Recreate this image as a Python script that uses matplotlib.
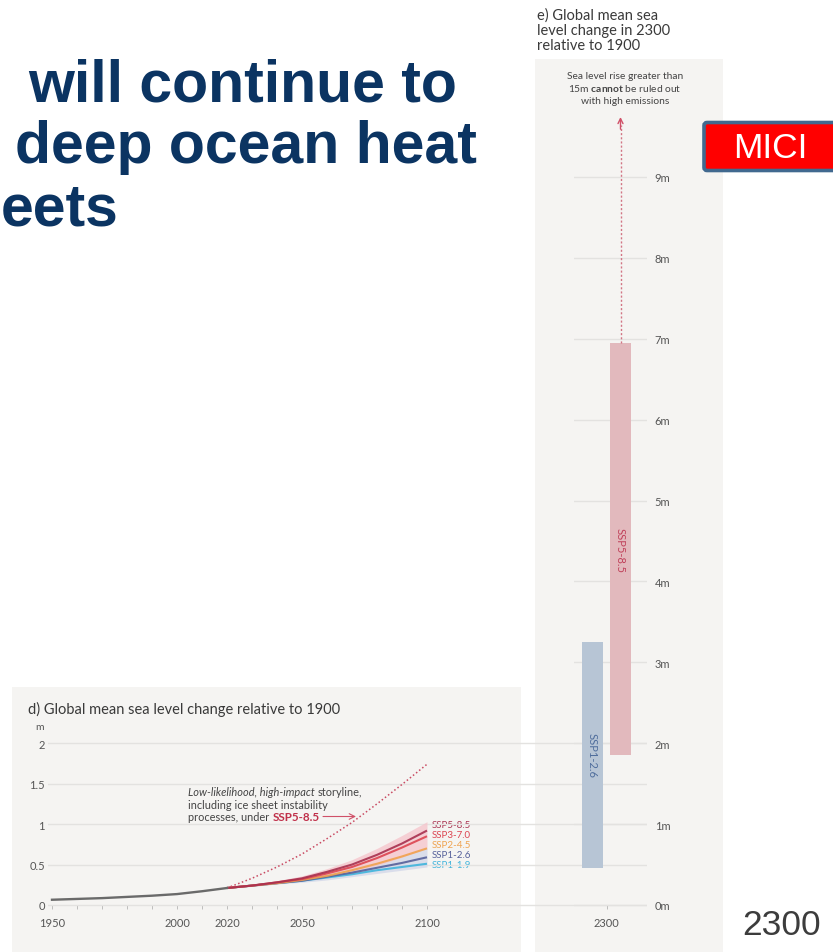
import matplotlib
matplotlib.use('Agg')
import matplotlib.pyplot as plt
from matplotlib.patches import Rectangle, FancyBboxPatch
from matplotlib.ticker import FixedLocator

plt.rcParams['font.family'] = ['Lato', 'DejaVu Sans']
plt.rcParams['mathtext.fontset'] = 'custom'
plt.rcParams['mathtext.rm'] = 'Lato'
plt.rcParams['mathtext.bf'] = 'Lato:bold'
plt.rcParams['mathtext.it'] = 'Lato:italic'

# ---- panel d: GMSL change relative to 1900 (m) ----
obs_years = [1950, 1960, 1970, 1980, 1990, 2000, 2010, 2020]
obs_gmsl = [0.065, 0.075, 0.085, 0.10, 0.115, 0.135, 0.17, 0.21]

proj_years = [2020, 2030, 2040, 2050, 2060, 2070, 2080, 2090, 2100]
scenarios = ['SSP5-8.5', 'SSP3-7.0', 'SSP2-4.5', 'SSP1-2.6', 'SSP1-1.9']
ssp585 = [0.21, 0.24, 0.28, 0.33, 0.41, 0.50, 0.62, 0.76, 0.92]
ssp370 = [0.21, 0.24, 0.28, 0.32, 0.39, 0.47, 0.58, 0.71, 0.85]
ssp245 = [0.21, 0.24, 0.27, 0.31, 0.36, 0.43, 0.51, 0.60, 0.70]
ssp126 = [0.21, 0.24, 0.27, 0.30, 0.35, 0.40, 0.46, 0.52, 0.59]
ssp119 = [0.21, 0.24, 0.27, 0.30, 0.34, 0.38, 0.43, 0.47, 0.51]
ssp585_low = [0.21, 0.23, 0.26, 0.30, 0.35, 0.41, 0.49, 0.59, 0.70]
ssp585_high = [0.21, 0.25, 0.30, 0.36, 0.45, 0.56, 0.70, 0.86, 1.03]
ssp126_low = [0.21, 0.23, 0.26, 0.28, 0.31, 0.35, 0.39, 0.43, 0.47]
ssp126_high = [0.21, 0.25, 0.29, 0.33, 0.39, 0.46, 0.53, 0.61, 0.70]
storyline = [0.21, 0.33, 0.47, 0.63, 0.82, 1.02, 1.25, 1.49, 1.74]

# ---- panel e: GMSL change in 2300 (m) ----
bars_2300 = ['SSP1-2.6', 'SSP5-8.5']
low_2300 = [0.46, 1.85]
high_2300 = [3.25, 6.95]
storyline_2300_top = 9.74

proj_series = [ssp585, ssp370, ssp245, ssp126, ssp119]
line_colors = ['#a8304e', '#dc4450', '#f0a24e', '#55609a', '#3fb4dc']
bar_colors = ['#b7c5d5', '#e2b9bd']
bar_text_colors = ['#4f6d9c', '#c0415a']
panel_bg = '#f5f4f2'
grid_c = '#e3e2e0'
tick_c = '#555555'

W, H = 833, 953

def frac(x0, y0, x1, y1):
    return [x0 / W, 1 - y1 / H, (x1 - x0) / W, (y1 - y0) / H]

def yr(px):
    return 1950 + (px - 52) / 2.5

def mm(py):
    return (906 - py) / 80.9

fig = plt.figure(figsize=(W / 100, H / 100), dpi=100)

bg = fig.add_axes([0, 0, 1, 1], zorder=0)
bg.set_xlim(0, W)
bg.set_ylim(H, 0)
bg.axis('off')
bg.add_patch(Rectangle((12, 688), 509, 266, color=panel_bg, lw=0))
bg.add_patch(Rectangle((535, 60), 188, 894, color=panel_bg, lw=0))

# slide title (only the part visible in the screenshot)
title_kw = dict(fontfamily='Liberation Sans', fontweight='bold', fontsize=42.5,
                color='#0b3462', va='baseline')
bg.text(457, 102, 'will continue to', ha='right', **title_kw)
bg.text(477, 163, 'deep ocean heat', ha='right', **title_kw)
bg.text(1, 225, 'eets', ha='left', **title_kw)

# MICI box and 2300 label
bg.add_patch(FancyBboxPatch((704, 123.5), 150, 48, boxstyle='round,pad=0,rounding_size=3',
                            fc='#ff0000', ec='#41698f', lw=2.6, clip_on=False))
bg.text(770, 149, 'MICI', fontfamily='Liberation Sans', fontsize=25.5, color='white',
        ha='center', va='center')
bg.text(742, 926, '2300', fontfamily='Liberation Sans', fontsize=25.5, color='#3c3c3c',
        ha='left', va='center')

# panel titles
bg.text(28, 709, 'd) Global mean sea level change relative to 1900', fontsize=10.5,
        color='#3a3a3a', va='center')
for i, s in enumerate(['e) Global mean sea', 'level change in 2300', 'relative to 1900']):
    bg.text(537, 15.5 + i * 15.5, s, fontsize=10.5, color='#3a3a3a', va='center')
bg.text(40, 728, 'm', fontsize=7.5, color=tick_c, ha='center', va='center')

# note above panel e bars
note_kw = dict(fontsize=7.4, color='#444444', ha='center', va='center')
bg.text(625, 76.5, 'Sea level rise greater than', **note_kw)
bg.text(625, 89, r'15m $\mathbf{cannot}$ be ruled out', **note_kw)
bg.text(625, 101.5, 'with high emissions', **note_kw)

# storyline annotation in panel d
ann_kw = dict(fontsize=7.9, color='#444444', va='baseline')
t1 = bg.text(188, 796.5, 'Low-likelihood, high-impact', style='italic', **ann_kw)
bg.annotate('storyline,', xy=(1, 0), xycoords=t1, xytext=(2.0, 0),
            textcoords='offset points', va='bottom', fontsize=7.9, color='#444444')
bg.text(188, 809, 'including ice sheet instability', **ann_kw)
t3 = bg.text(188, 821.5, 'processes, under', **ann_kw)
bg.annotate('SSP5-8.5', xy=(1, 0), xycoords=t3, xytext=(2.3, 0),
            textcoords='offset points', va='bottom', fontsize=8.4,
            fontweight='bold', color='#c0304a')
bg.annotate('', xy=(356, 817.5), xytext=(323, 817.5),
            arrowprops=dict(arrowstyle='->', color='#d05068', lw=0.8, shrinkA=0, shrinkB=0))

# ---- panel d axes ----
ax_d = fig.add_axes(frac(48, 720, 647, 935), zorder=1)
ax_d.patch.set_visible(False)
ax_d.set_xlim(yr(48), yr(647))
ax_d.set_ylim(mm(935), mm(720))
for sp in ax_d.spines.values():
    sp.set_visible(False)
ax_d.spines['bottom'].set_position(('data', 0))
ax_d.set_yticks([0, 0.5, 1, 1.5, 2])
ax_d.set_yticklabels(['0', '0.5', '1', '1.5', '2'])
ax_d.yaxis.grid(True, color=grid_c, lw=1)
ax_d.set_axisbelow(True)
ax_d.tick_params(axis='y', length=0, pad=2.2, labelsize=8, labelcolor=tick_c)
ax_d.set_xticks([1950, 2000, 2020, 2050, 2100])
ax_d.xaxis.set_minor_locator(FixedLocator(list(range(1950, 2101, 10))))
ax_d.tick_params(axis='x', which='both', length=3, width=0.6, color='#b5b5b5',
                 pad=5.5, labelsize=8, labelcolor=tick_c)

ax_d.fill_between(proj_years, ssp126_low, ssp126_high, color='#cfd4e8', alpha=0.7, lw=0)
ax_d.fill_between(proj_years, ssp585_low, ssp585_high, color='#f6c3cb', alpha=0.75, lw=0)
for series, c in reversed(list(zip(proj_series, line_colors))):
    ax_d.plot(proj_years, series, color=c, lw=1.5, alpha=0.9, solid_capstyle='butt')
ax_d.plot(proj_years, storyline, color='#c94a62', lw=1.1, ls=(0, (1, 1.6)))
ax_d.plot(obs_years, obs_gmsl, color='#6a6a6a', lw=1.7)

for i, (s, c) in enumerate(zip(scenarios, line_colors)):
    bg.text(432, 826 + i * 10, s, fontsize=7.0, color=c, va='center', ha='left')

# ---- panel e axes ----
ax_e = fig.add_axes(frac(574, 60, 647, 935), zorder=2)
ax_e.patch.set_visible(False)
ax_e.set_xlim((574 - 592.5) / 28, (647 - 592.5) / 28)
ax_e.set_ylim(mm(935), mm(60))
for sp in ax_e.spines.values():
    sp.set_visible(False)
ax_e.spines['bottom'].set_position(('data', 0))
ax_e.yaxis.tick_right()
ax_e.set_yticks(range(10))
ax_e.set_yticklabels([f'{v}m' for v in range(10)])
ax_e.yaxis.grid(True, color=grid_c, lw=1)
ax_e.set_axisbelow(True)
ax_e.tick_params(axis='y', length=0, pad=5.5, labelsize=8, labelcolor=tick_c)
ax_e.set_xticks([0.5])
ax_e.set_xticklabels(['2300'])
ax_e.tick_params(axis='x', length=3, width=0.6, color='#b5b5b5', pad=5.5,
                 labelsize=8, labelcolor=tick_c)

xpos = list(range(len(bars_2300)))
ax_e.bar(xpos, [h - l for l, h in zip(low_2300, high_2300)], bottom=low_2300,
         width=0.72, color=bar_colors, lw=0, zorder=3)
for x, l, h, name, c in zip(xpos, low_2300, high_2300, bars_2300, bar_text_colors):
    ax_e.text(x, (l + h) / 2, name, rotation=-90, fontsize=8,
              color=c, ha='center', va='center', zorder=4)
ax_e.plot([1, 1], [high_2300[1], storyline_2300_top - 0.1], color='#d27585', lw=1.0,
          ls=(0, (1.5, 1.5)), zorder=3)
ax_e.annotate('', xy=(1, storyline_2300_top), xytext=(1, storyline_2300_top - 0.15),
              arrowprops=dict(arrowstyle='->', color='#d05068', lw=1.0,
                              shrinkA=0, shrinkB=0, mutation_scale=9))

fig.savefig('out.png', dpi=100)
